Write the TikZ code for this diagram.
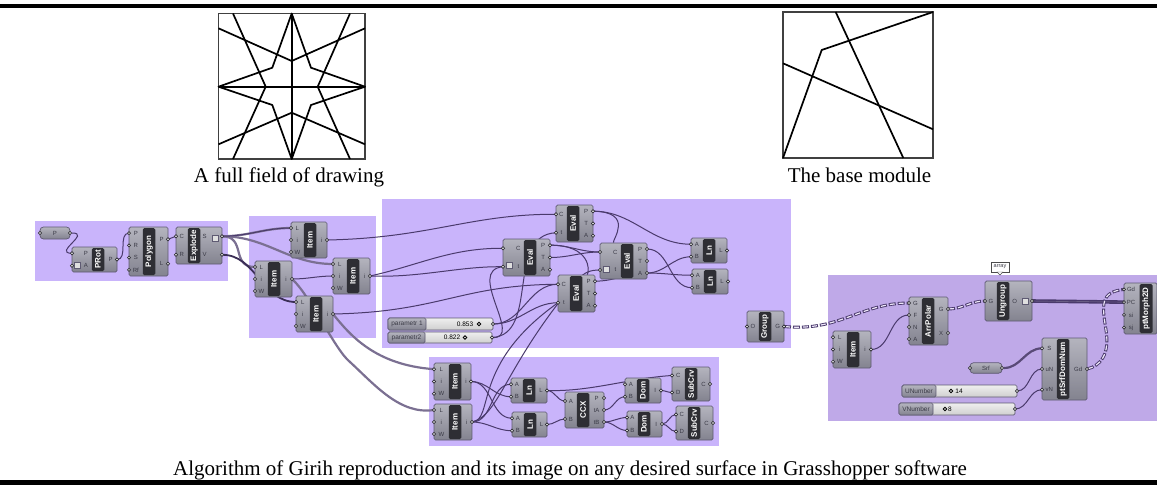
\documentclass[tikz,border=0pt]{standalone}
\usepackage{fontspec}
\setmainfont{Liberation Serif}
\newfontfamily\ghfont{Liberation Sans}
\definecolor{grpA}{HTML}{C9B4FB}
\definecolor{grpB}{HTML}{BFA9E8}
\definecolor{bodyT}{HTML}{B4B4BE}
\definecolor{bodyB}{HTML}{83838F}
\definecolor{edgeC}{HTML}{5E5A72}
\definecolor{barC}{HTML}{2E2E34}
\definecolor{labC}{HTML}{3A3A46}
\definecolor{wireC}{HTML}{4A3A6C}
\definecolor{grayW}{HTML}{7B7092}
\definecolor{sliderT}{HTML}{EFEFEF}
\definecolor{sliderB}{HTML}{CFCFCF}
\pgfdeclarelayer{grouplayer}
\pgfdeclarelayer{wirelayer}
\pgfsetlayers{grouplayer,wirelayer,main}
\tikzset{
  x=1pt,y=-1pt,
  compbody/.style={draw=edgeC,line width=.7pt,rounded corners=1.5pt,top color=bodyT,bottom color=bodyB,inner sep=0pt},
  compbar/.style={fill=barC,rounded corners=1.5pt,text=white,inner sep=0pt,font=\ghfont\bfseries\fontsize{8}{9}\selectfont},
  portdot/.style={circle,draw=barC,fill=white,line width=.7pt,minimum size=3.2pt,inner sep=0pt},
  portlab/.style={text=labC,inner sep=0pt,font=\ghfont\fontsize{6}{7}\selectfont},
  icon/.style={draw=edgeC,line width=.4pt,fill=white!75!gray,minimum size=6pt,inner sep=0pt},
  wire/.style={draw=wireC,line width=1pt},
  graywire/.style={draw=grayW,line width=2.2pt},
  dblwire/.style={draw=wireC,line width=1.6pt,double=grayW,double distance=.4pt},
  dashwire/.style={draw=wireC,line width=3pt,dash pattern=on 7pt off 2pt,postaction={draw=white!70!grpB,line width=1.2pt,dash pattern=on 5pt off 4pt,dash phase=8pt}},
  pill/.style={draw=edgeC,line width=.7pt,rounded corners=3.5pt,top color=bodyT,bottom color=bodyB,inner sep=0pt,text=labC,font=\ghfont\fontsize{6}{7}\selectfont},
  slidernum/.style={text=black,inner sep=0pt,font=\ghfont\fontsize{6.5}{7}\selectfont},
  sliderdot/.style={circle,draw=black,fill=white,line width=.9pt,minimum size=3.4pt,inner sep=0pt},
  captionstyle/.style={inner sep=0pt,text=black,font=\fontsize{21}{24}\selectfont},
  sketchline/.style={draw=black,line width=1.7pt,line join=round},
  framesq/.style={draw=black!75,line width=1.7pt},
  tagbox/.style={draw=black!70,fill=white,line width=.5pt,inner sep=0pt,text=labC,font=\ghfont\fontsize{5.5}{6}\selectfont}
}
\newcount\portn
\newcommand{\portset}[8]{% name, tag, edge x, y1, y2, label x, list, (unused)
  \global\portn=0
  \foreach \t in {#7}{\global\advance\portn by 1}
  \edef\thisn{\the\portn}
  \foreach \t [count=\i] in {#7}{
    \pgfmathsetmacro\py{#4+(#5-#4)*(\i-0.5)/\thisn}
    \coordinate (#1-#2\i) at (#3,\py);
    \node[portdot] (#1-d#2\i) at (#3,\py) {};
    \node[portlab] (#1-l#2\i) at (#6,\py) {\t};
  }
}
\newcommand{\comp}[9]{% name,x1,y1,x2,y2,barx,label,inputs,outputs
  \node[compbody,minimum width={(#4-#2)*1pt},minimum height={(#5-#3)*1pt}] (#1) at ({(#2+#4)/2},{(#3+#5)/2}) {};
  \node[compbar,rotate=90,minimum width={(#5-#3-2)*1pt},minimum height=12.5pt] (#1-bar) at (#6,{(#3+#5)/2}) {#7};
  \pgfmathsetmacro\lxa{(#2+#6-6.25)/2}
  \pgfmathsetmacro\lxb{(#4+#6+6.25)/2}
  \portset{#1}{i}{#2}{#3}{#5}{\lxa}{#8}{}
  \portset{#1}{o}{#4}{#3}{#5}{\lxb}{#9}{}
}
\newcommand{\slider}[9]{% name,x1,y1,x2,y2,xdiv,label,value,(valx,dotx)
  \node[draw=edgeC,line width=.7pt,rounded corners=1.5pt,top color=sliderT,bottom color=sliderB,inner sep=0pt,minimum width={(#4-#2)*1pt},minimum height={(#5-#3)*1pt}] (#1) at ({(#2+#4)/2},{(#3+#5)/2}) {};
  \node[draw=edgeC,line width=.7pt,rounded corners=1.5pt,top color=bodyT,bottom color=bodyB,inner sep=0pt,text=labC,font=\ghfont\fontsize{6.5}{7}\selectfont,minimum width={(#6-#2)*1pt},minimum height={(#5-#3)*1pt}] (#1-lab) at ({(#2+#6)/2},{(#3+#5)/2}) {#7};
  \coordinate (#1-o1) at (#4,{(#3+#5)/2});
  \node[portdot] (#1-do1) at (#4,{(#3+#5)/2}) {};
  #9
}
\begin{document}
\begin{tikzpicture}
\useasboundingbox (0,0) rectangle (1157,485);
% left figure
\draw[framesq] (218.5,13.5) rectangle (365,159);
\draw[sketchline] (233,13.5) -- (265.7,86.7) -- (233,159);
\draw[sketchline] (350,13.5) -- (317.7,86.7) -- (350,159);
\draw[sketchline] (218.5,28.3) -- (291.7,61) -- (365,28.3);
\draw[sketchline] (218.5,144.3) -- (291.7,112.7) -- (365,144.3);
\draw[sketchline] (291.7,13.5) -- (311,67.7) -- (365,86.7) -- (311,105) -- (291.7,159) -- (272.3,105) -- (218.5,86.7) -- (272.3,67.7) -- cycle;
\draw[sketchline] (291.7,13.5) -- (291.7,159);
\draw[sketchline] (218.5,86.7) -- (365,86.7);
\node[captionstyle,anchor=base] (capL) at (289,182) {A full field of drawing};
% right figure
\draw[framesq] (783,12) rectangle (933,158);
\draw[sketchline] (835.7,12) -- (903.3,158);
\draw[sketchline] (783,63.3) -- (933,129.3);
\draw[sketchline] (783,158) -- (821.7,50) -- (933,12);
\node[captionstyle,anchor=base] (capR) at (859.5,182) {The base module};
% bottom caption
\node[captionstyle,anchor=base west] (capB) at (173,475) {Algorithm of Girih reproduction and its image on any desired surface in Grasshopper software};
% rules
\fill[black] (0,4) rectangle (1157,8);
\fill[black] (0,480) rectangle (1157,485);
% groups
\begin{pgfonlayer}{grouplayer}
\fill[grpA] (35,221) rectangle (228,281);
\fill[grpA] (249,216) rectangle (376,338);
\fill[grpA] (382,199) rectangle (791,348);
\fill[grpA] (429,357) rectangle (719,446);
\fill[grpB] (828,275) rectangle (1157,421);
\end{pgfonlayer}
% group 1
\node[pill,minimum width=30pt,minimum height=12pt] (pP) at (55,233) {P};
\node[portdot] (pP-l) at (40,233) {};
\node[portdot] (pP-r) at (70,233) {};
\comp{prot}{72}{247}{117}{272}{98}{PRot}{\hspace*{8pt}P,\hspace*{8pt}A}{P}
\node[icon] (iconA) at (77,265) {};
\comp{poly}{129}{227}{168}{276}{149}{Polygon}{P,R,S,Rf}{P,L}
\comp{expl}{176}{227}{222}{264}{194}{Explode}{C,R}{S\hspace*{13pt},V\hspace*{13pt}}
\node[icon] (iconB) at (215,238) {};
% group 2
\comp{itemA}{291}{222}{327}{258}{310}{Item}{L,i,W}{i}
\comp{itemB}{333}{258}{370}{294}{353}{Item}{L,i,W}{i}
\comp{itemC}{255}{261}{292}{297}{274}{Item}{L,i,W}{i}
\comp{itemD}{296}{296}{333}{332}{316}{Item}{L,i,W}{i}
% group 3
\comp{evalT}{556}{205}{593}{242}{573}{Eval}{C,t}{P,T,A}
\comp{evalL}{503}{239}{550}{276}{530}{Eval}{\hspace*{10pt}C,\hspace*{10pt}t}{P,T,A}
\node[icon] (iconC) at (509,265) {};
\comp{evalR}{600}{243}{647}{279}{627}{Eval}{\hspace*{10pt}C,\hspace*{10pt}t}{P,T,A}
\node[icon] (iconD) at (606,269) {};
\comp{evalB}{558}{275}{595}{312}{576}{Eval}{C,t}{P,T,A}
\comp{lnT}{691}{238}{727}{263}{709}{Ln}{A,B}{L}
\comp{lnB}{692}{269}{728}{294}{710}{Ln}{A,B}{L}
\comp{grp}{747}{311}{784}{342}{765}{Group}{O}{G}
\slider{parA}{388}{318}{493}{330}{426}{parametr 1}{}{\node[slidernum] (parAv) at (465,324) {0.853};\node[sliderdot] (parAd) at (479,324) {};}
\slider{parB}{388}{332}{492}{343}{425}{parametr2}{}{\node[slidernum] (parBv) at (452,337.5) {0.822};\node[sliderdot] (parBd) at (465,337.5) {};}
% group 4
\comp{itemE}{434}{363}{471}{400}{455}{Item}{L,i,W}{i}
\comp{itemF}{434}{404}{472}{440}{455}{Item}{L,i,W}{i}
\comp{lnC}{511}{378}{547}{403}{529}{Ln}{A,B}{L}
\comp{lnD}{512}{412}{547}{437}{530}{Ln}{A,B}{L}
\comp{ccx}{565}{392}{604}{428}{583}{CCX}{A,B}{P,tA,tB}
\comp{domA}{625}{378}{661}{403}{643}{Dom}{A,B}{I}
\comp{domB}{627}{411}{662}{437}{644}{Dom}{A,B}{I}
\comp{subA}{672}{367}{710}{401}{691}{SubCrv}{C,D}{C}
\comp{subB}{676}{406}{713}{440}{694}{SubCrv}{C,D}{C}
% group 5
\comp{ungr}{985}{281}{1032}{321}{1003}{Ungroup}{G}{O\hspace*{12pt}}
\node[icon] (iconE) at (1025,301) {};
\comp{arrp}{909}{297}{948}{345}{928}{ArrPolar}{G,F,N,A}{G,X}
\comp{itemG}{833}{331}{871}{368}{853}{Item}{L,i,W}{i}
\node[compbody,minimum width=33pt,minimum height=51pt] (morph) at (1140.5,308.5) {};
\node[compbar,rotate=90,minimum width=49pt,minimum height=13pt] (morphbar) at (1146,308.5) {ptMorph2D};
\portset{morph}{i}{1124}{283}{334}{1131}{Gd,PC,si,sj}{}
\comp{srfd}{1042}{338}{1087}{400}{1063}{ptSrfDomNum}{S,uN,vN}{Gd}
\node[pill,minimum width=32pt,minimum height=10.5pt] (srf) at (986,368) {Srf};
\node[portdot] (srf-l) at (970,368) {};
\node[portdot] (srf-r) at (1002,368) {};
\slider{unum}{902}{385}{1017}{397}{936}{UNumber}{}{\node[sliderdot] (unumd) at (951,391) {};\node[slidernum] (unumv) at (959,391) {14};}
\slider{vnum}{899}{403}{1015}{415}{933}{VNumber}{}{\node[sliderdot] (vnumd) at (945,409) {};\node[slidernum] (vnumv) at (950,409) {8};}
\node[tagbox,minimum width=18pt,minimum height=10pt] (tag) at (1000,267) {array};
\fill[white,draw=black!70,line width=.4pt] (997,272) -- (1000,275) -- (1003,272) -- cycle;
% wires
\begin{pgfonlayer}{wirelayer}
\draw[wire] (pP-r) to[out=0,in=180,looseness=2.5] (prot-i1);
\draw[wire] (prot-o1) to[out=0,in=180] (poly-i1);
\draw[wire] (poly-o1) to[out=0,in=180] (expl-i1);
\draw[graywire] (expl-o1) to[out=0,in=180] (itemA-i1);
\draw[graywire] (expl-o1) to[out=0,in=180] (itemB-i1);
\draw[graywire] (expl-o1) to[out=0,in=180,looseness=1.4] (itemC-i1);
\draw[wire] (expl-o1) to[out=0,in=180] (itemA-i1);
\draw[line width=1.8pt,draw=wireC!80!black] (expl-o2) to[out=0,in=180] (itemD-i1);
\draw[wire] (itemC-o1) to[out=0,in=180] (itemB-i2);
\draw[graywire] (itemC-o1) .. controls (310,295) and (335,350) .. (350,362) .. controls (375,385) and (400,415) .. (itemF-i1);
\draw[graywire] (itemD-o1) .. controls (350,335) and (375,365) .. (itemE-i1);
\draw[wire] (itemA-o1) .. controls (430,238) and (470,214) .. (evalT-i1);
\draw[wire] (itemB-o1) .. controls (420,265) and (450,248) .. (evalL-i1);
\draw[wire] (itemB-o1) .. controls (420,278) and (460,266) .. (evalL-i2);
\draw[wire] (itemD-o1) .. controls (440,312) and (460,285) .. (evalB-i1);
\draw[wire] (parB-o1) .. controls (525,340) and (465,270) .. (evalL-i2);
\draw[wire] (parB-o1) .. controls (540,335) and (505,235) .. (evalT-i2);
\draw[wire] (parA-o1) to[out=0,in=180] (evalB-i2);
\draw[wire] (parA-o1) to[out=0,in=180] (evalB-i1);
\draw[wire] (itemF-o1) .. controls (495,420) and (470,365) .. (evalB-i2);
\draw[wire] (itemF-o1) .. controls (500,415) and (505,365) .. (577,280) .. controls (585,272) and (590,270) .. (evalR-i2);
\draw[wire] (evalL-o1) to[out=0,in=180] (evalR-i1);
\draw[wire] (evalL-o2) to[out=0,in=180] (evalR-i1);
\draw[wire] (evalL-o1) .. controls (590,245) and (590,270) .. (evalB);
\draw[wire] (evalT-o1) .. controls (635,212) and (612,240) .. (evalR);
\draw[wire] (evalT-o1) to[out=0,in=180] (lnT-i1);
\draw[wire] (evalB-o1) to[out=0,in=180] (evalR-o3);
\draw[wire] (evalR-o1) to[out=0,in=180] (lnB-i2);
\draw[wire] (evalR-o3) to[out=0,in=180] (lnB-i1);
\draw[wire] (evalR-o3) to[out=0,in=180] (lnT-i2);
\draw[dashwire] (grp-o1) .. controls (840,332) and (860,303) .. (arrp-i1);
\draw[dashwire] (arrp-o1) to[out=0,in=180] (ungr-i1);
\draw[wire] (itemG-o1) to[out=0,in=180] (arrp-i2);
\draw[dblwire] (ungr-o1) -- (morph-i2);
\draw[dashwire] (srfd-o1) .. controls (1100,366) and (1110,355) .. (1106,330) .. controls (1102,305) and (1100,292) .. (morph-i1);
\draw[graywire,draw=wireC!70!grayW] (srf-r) to[out=0,in=180] (srfd-i1);
\draw[wire] (unum-o1) to[out=0,in=180] (srfd-i2);
\draw[wire] (vnum-o1) to[out=0,in=180] (srfd-i3);
\draw[wire] (itemE-o1) to[out=0,in=180] (lnD-i1);
\draw[wire] (itemE-o1) to[out=0,in=180] (lnC-i2);
\draw[wire] (itemF-o1) to[out=0,in=180] (lnC-i1);
\draw[wire] (itemF-o1) to[out=0,in=180] (lnD-i2);
\draw[wire] (lnC-o1) to[out=0,in=180] (ccx-i1);
\draw[wire] (lnC-o1) .. controls (590,392) and (630,378) .. (subA-i1);
\draw[wire] (lnD-o1) to[out=0,in=180] (ccx-i2);
\draw[wire] (ccx-o2) to[out=0,in=180] (domA-i2);
\draw[wire] (ccx-o3) to[out=0,in=180] (domB-i1);
\draw[wire] (ccx-o3) to[out=0,in=180] (domB-i2);
\draw[wire] (domA-o1) to[out=0,in=180] (subA-i2);
\draw[wire] (domB-o1) to[out=0,in=180] (subB-i1);
\draw[wire] (domB-o1) to[out=0,in=180] (subB-i2);
\end{pgfonlayer}
\end{tikzpicture}
\end{document}
